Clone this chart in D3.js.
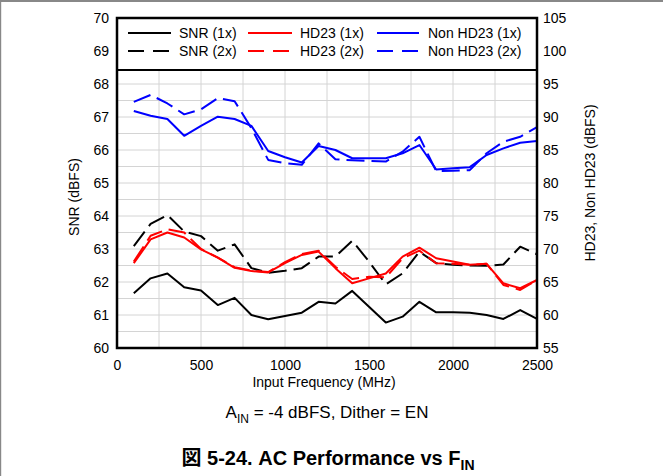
<!DOCTYPE html>
<html><head><meta charset="utf-8">
<script src="https://cdn.jsdelivr.net/npm/d3@7"></script>
<style>body{margin:0;background:#fff}svg{display:block;font-family:"Liberation Sans",Arial,sans-serif}</style>
</head><body>
<svg id="c" width="663" height="476"></svg>
<script>
const freqs = [100,200,300,400,500,600,700,800,900,1000,1100,1200,1300,1400,1500,1600,1700,1800,1900,2000,2100,2200,2300,2400,2500];
const snr1x = [61.66,62.11,62.26,61.84,61.74,61.30,61.52,61.00,60.87,60.97,61.07,61.40,61.35,61.73,61.25,60.77,60.95,61.40,61.08,61.08,61.07,61.00,60.88,61.15,60.88];
const snr2x = [63.09,63.76,64.03,63.53,63.39,62.95,63.14,62.42,62.28,62.34,62.42,62.77,62.77,63.25,62.62,61.93,62.26,62.92,62.57,62.52,62.50,62.49,62.53,63.07,62.84];
const hd23_1x = [67.85,71.45,72.5,71.75,69.95,68.7,67.15,66.65,66.45,67.85,69.1,69.6,67.1,64.8,65.55,66.3,68.85,70.2,68.6,68.1,67.6,67.75,64.8,64.05,65.3];
const hd23_2x = [68.1,72.0,73.0,72.5,70.0,68.7,67.25,66.75,66.5,68.0,69.25,69.75,67.3,65.45,65.8,65.7,68.6,69.75,67.85,67.75,67.6,67.75,64.55,63.8,65.3];
const nonhd23_1x = [90.9,90.2,89.7,87.15,88.65,90.05,89.7,88.65,84.85,83.9,83.1,85.6,85.0,83.75,83.75,83.75,84.5,85.75,82.05,82.25,82.4,84.25,85.25,86.1,86.35];
const nonhd23_2x = [92.3,93.35,92.05,90.4,91.15,92.85,92.4,88.3,83.5,83.0,82.75,86.0,83.6,83.45,83.35,83.25,84.75,87.0,81.8,81.85,81.95,84.5,86.25,87.0,88.45];
const xTicks = [0,500,1000,1500,2000,2500];
const yLeftTicks = [60,61,62,63,64,65,66,67,68,69,70];
const yRightTicks = [55,60,65,70,75,80,85,90,95,100,105];
const legendLabels = ["SNR (1x)","HD23 (1x)","Non HD23 (1x)","SNR (2x)","HD23 (2x)","Non HD23 (2x)"];

const svg = d3.select("#c");
const L = 117, R = 537, T = 18, B = 348;
const x = d3.scaleLinear().domain([0,2500]).range([L,R]);
const yL = d3.scaleLinear().domain([60,70]).range([B,T]);
const yR = d3.scaleLinear().domain([55,105]).range([B,T]);

// frame
svg.append("rect").attr("x",0).attr("y",0).attr("width",663).attr("height",2).attr("fill","#888");
svg.append("rect").attr("x",0).attr("y",0).attr("width",1.2).attr("height",476).attr("fill","#888");

// grid
const g = svg.append("g");
d3.range(250,2500,250).forEach(v=>{
  g.append("line").attr("x1",x(v)).attr("x2",x(v)).attr("y1",T).attr("y2",B).attr("stroke","#d4d4d4").attr("stroke-width",1);
});
d3.range(60.5,70,0.5).forEach(v=>{
  g.append("line").attr("x1",L).attr("x2",R).attr("y1",yL(v)).attr("y2",yL(v)).attr("stroke","#d4d4d4").attr("stroke-width",1);
});

// axes
const axL = svg.append("g").attr("transform",`translate(${L},0)`).call(d3.axisLeft(yL).tickValues(yLeftTicks).tickSize(0).tickPadding(8).tickFormat(d3.format("d")));
const axR = svg.append("g").attr("transform",`translate(${R},0)`).call(d3.axisRight(yR).tickValues(yRightTicks).tickSize(0).tickPadding(6).tickFormat(d3.format("d")));
const axB = svg.append("g").attr("transform",`translate(0,${B})`).call(d3.axisBottom(x).tickValues(xTicks).tickSize(0).tickPadding(12).tickFormat(d3.format("d")));
[axL,axR,axB].forEach(a=>{a.select(".domain").remove();a.selectAll("text").attr("font-size",14).attr("fill","#000").attr("font-family","Liberation Sans, Arial, sans-serif");});

// lines
const dash = "18,7";
const series = [
  {v:nonhd23_1x, y:yR, c:"#0000ff", d:null},
  {v:nonhd23_2x, y:yR, c:"#0000ff", d:dash},
  {v:snr1x, y:yL, c:"#000", d:null},
  {v:snr2x, y:yL, c:"#000", d:dash},
  {v:hd23_1x, y:yR, c:"#ff0000", d:null},
  {v:hd23_2x, y:yR, c:"#ff0000", d:dash},
];
series.forEach(s=>{
  const line = d3.line().x((d,i)=>x(freqs[i])).y(d=>s.y(d));
  svg.append("path").attr("d",line(s.v)).attr("fill","none").attr("stroke",s.c).attr("stroke-width",2)
    .attr("stroke-dasharray",s.d).attr("stroke-linejoin","round");
});

// legend box
svg.append("rect").attr("x",L).attr("y",T).attr("width",R-L).attr("height",52).attr("fill","#fff").attr("stroke","#000").attr("stroke-width",2);
const legCols = [[128,171,179],[248,292,300],[377,419,428]];
const legColors = ["#000","#ff0000","#0000ff"];
const rows = [33,51];
legendLabels.forEach((lab,i)=>{
  const r = Math.floor(i/3), c = i%3;
  const col = legCols[c];
  svg.append("line").attr("x1",col[0]).attr("x2",col[1]).attr("y1",rows[r]).attr("y2",rows[r])
    .attr("stroke",legColors[c]).attr("stroke-width",2).attr("stroke-dasharray",r? "16,9":null);
  svg.append("text").attr("x",col[2]).attr("y",rows[r]+5).attr("font-size",14).text(lab);
});

// plot border
svg.append("rect").attr("x",L).attr("y",T).attr("width",R-L).attr("height",B-T).attr("fill","none").attr("stroke","#000").attr("stroke-width",2.5);

// axis titles
svg.append("text").attr("transform",`translate(79,${(T+B)/2+14}) rotate(-90)`).attr("text-anchor","middle").attr("font-size",14).text("SNR (dBFS)");
svg.append("text").attr("transform",`translate(595,${(T+B)/2}) rotate(-90)`).attr("text-anchor","middle").attr("font-size",14).text("HD23, Non HD23 (dBFS)");
svg.append("text").attr("x",(L+R)/2 - 3).attr("y",387).attr("text-anchor","middle").attr("font-size",14).text("Input Frequency (MHz)");

// subtitle
const st = svg.append("text").attr("x",(L+R)/2).attr("y",418).attr("text-anchor","middle").attr("font-size",17);
st.append("tspan").text("A");
st.append("tspan").attr("font-size",12).attr("dy",5).text("IN");
st.append("tspan").attr("dy",-5).text(" = -4 dBFS, Dither = EN");

// caption
const cap = svg.append("text").attr("x",(L+R)/2 + 1).attr("y",465).attr("text-anchor","middle").attr("font-size",20).attr("font-weight","bold");
cap.append("tspan").attr("font-family","Noto Sans CJK JP").text("図");
cap.append("tspan").text(" 5-24. AC Performance vs F");
cap.append("tspan").attr("font-size",14).attr("dy",5).text("IN");
</script>
</body></html>
